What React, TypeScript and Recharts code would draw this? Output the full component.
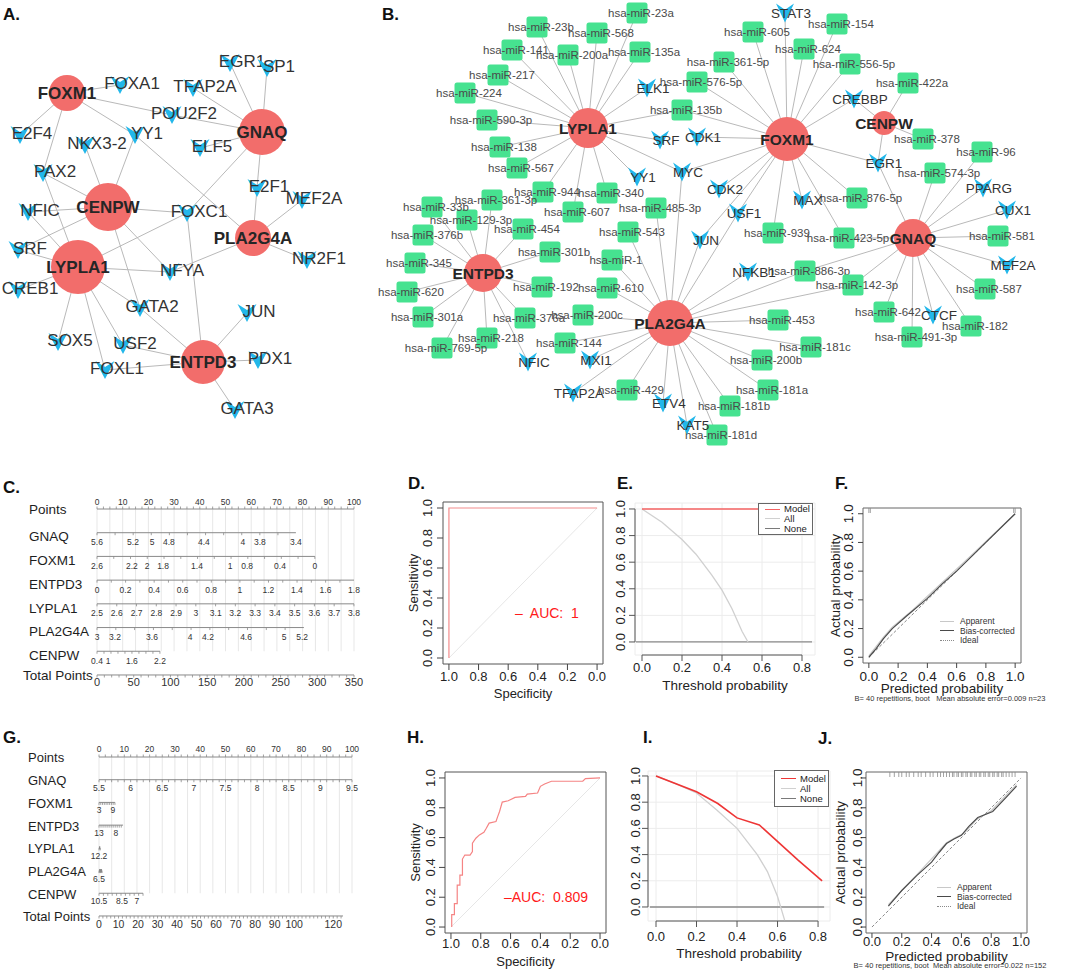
import React from 'react';
import {
  ComposedChart, Line, Scatter, XAxis, YAxis, ReferenceLine, ReferenceArea, CartesianGrid,
} from 'recharts';

const FONT = '"Liberation Sans", Arial, Helvetica, sans-serif';
const RED = '#F26D6B';
const BLUE = '#22B7EA';
const GREEN = '#46E290';
const EDGE = '#b9b9b9';

// ---------- A. gene / TF network (layout coordinates) ----------
const netAGenes = [
  { id: 'FOXM1', x: 67, y: 93 },
  { id: 'GNAQ', x: 262, y: 132 },
  { id: 'CENPW', x: 108, y: 207 },
  { id: 'LYPLA1', x: 78, y: 267 },
  { id: 'PLA2G4A', x: 253, y: 238 },
  { id: 'ENTPD3', x: 203, y: 362 },
];
const netATfs = [
  { id: 'EGR1', x: 230, y: 63 }, { id: 'SP1', x: 267, y: 68 }, { id: 'TFAP2A', x: 193, y: 88 },
  { id: 'FOXA1', x: 120, y: 85 }, { id: 'POU2F2', x: 172, y: 115 }, { id: 'E2F4', x: 20, y: 135 },
  { id: 'NKX3-2', x: 85, y: 145 }, { id: 'YY1', x: 135, y: 135 }, { id: 'ELF5', x: 200, y: 148 },
  { id: 'PAX2', x: 43, y: 173 }, { id: 'E2F1', x: 257, y: 188 }, { id: 'MEF2A', x: 302, y: 200 },
  { id: 'NFIC', x: 28, y: 212 }, { id: 'FOXC1', x: 187, y: 213 }, { id: 'SRF', x: 18, y: 250 },
  { id: 'NR2F1', x: 307, y: 260 }, { id: 'NFYA', x: 170, y: 272 }, { id: 'CREB1', x: 18, y: 290 },
  { id: 'GATA2', x: 140, y: 308 }, { id: 'JUN', x: 247, y: 313 }, { id: 'SOX5', x: 58, y: 342 },
  { id: 'USF2', x: 123, y: 345 }, { id: 'PDX1', x: 258, y: 360 }, { id: 'FOXL1', x: 105, y: 370 },
  { id: 'GATA3', x: 235, y: 410 },
];
const netAFoxm1 = ['FOXA1', 'POU2F2', 'E2F4', 'PAX2', 'YY1'];
const netAGnaq = ['TFAP2A', 'EGR1', 'SP1', 'POU2F2', 'ELF5', 'FOXC1', 'E2F1'];
const netACenpw = ['NKX3-2', 'YY1', 'PAX2', 'NFIC', 'SRF', 'FOXC1', 'NFYA', 'GATA2'];
const netALypla1 = ['PAX2', 'NFIC', 'SRF', 'CREB1', 'FOXC1', 'NFYA', 'GATA2', 'SOX5', 'USF2', 'FOXL1'];
const netAPla2g4a = ['YY1', 'E2F1', 'MEF2A', 'NR2F1', 'NFYA'];
const netAEntpd3 = ['FOXC1', 'GATA2', 'USF2', 'FOXL1', 'JUN', 'PDX1', 'GATA3'];

// ---------- B. gene / TF / miRNA network ----------
const netBGenes = [
  { id: 'LYPLA1', x: 588, y: 128 },
  { id: 'ENTPD3', x: 483, y: 273 },
  { id: 'PLA2G4A', x: 670, y: 323 },
  { id: 'FOXM1', x: 787, y: 139 },
  { id: 'CENPW', x: 884, y: 123 },
  { id: 'GNAQ', x: 913, y: 238 },
];
const netBTfs = [
  { id: 'ELK1', x: 647, y: 88 }, { id: 'SRF', x: 660, y: 140 }, { id: 'CDK1', x: 697, y: 137 },
  { id: 'YY1', x: 637, y: 177 }, { id: 'MYC', x: 682, y: 172 }, { id: 'CDK2', x: 719, y: 189 },
  { id: 'JUN', x: 700, y: 240 }, { id: 'USF1', x: 738, y: 213 }, { id: 'MAX', x: 802, y: 200 },
  { id: 'NFKB1', x: 748, y: 272 }, { id: 'NFIC', x: 528, y: 362 }, { id: 'MXI1', x: 590, y: 360 },
  { id: 'TFAP2A', x: 573, y: 393 }, { id: 'ETV4', x: 663, y: 403 }, { id: 'KAT5', x: 687, y: 425 },
  { id: 'STAT3', x: 785, y: 13 }, { id: 'CREBBP', x: 854, y: 99 }, { id: 'EGR1', x: 878, y: 163 },
  { id: 'PPARG', x: 983, y: 188 }, { id: 'CUX1', x: 1007, y: 210 }, { id: 'MEF2A', x: 1007, y: 265 },
  { id: 'CTCF', x: 933, y: 315 },
];
const netBMirs = [
  { id: 'hsa-miR-23b', x: 537, y: 27 }, { id: 'hsa-miR-568', x: 597, y: 33 }, { id: 'hsa-miR-23a', x: 637, y: 13 },
  { id: 'hsa-miR-141', x: 512, y: 50 }, { id: 'hsa-miR-200a', x: 568, y: 55 }, { id: 'hsa-miR-135a', x: 640, y: 52 },
  { id: 'hsa-miR-217', x: 498, y: 75 }, { id: 'hsa-miR-224', x: 465, y: 93 }, { id: 'hsa-miR-590-3p', x: 487, y: 120 },
  { id: 'hsa-miR-138', x: 500, y: 147 }, { id: 'hsa-miR-567', x: 517, y: 168 }, { id: 'hsa-miR-944', x: 543, y: 192 },
  { id: 'hsa-miR-340', x: 607, y: 193 }, { id: 'hsa-miR-607', x: 573, y: 212 }, { id: 'hsa-miR-576-5p', x: 697, y: 82 },
  { id: 'hsa-miR-135b', x: 682, y: 110 }, { id: 'hsa-miR-361-5p', x: 724, y: 62 }, { id: 'hsa-miR-605', x: 753, y: 32 },
  { id: 'hsa-miR-624', x: 804, y: 49 }, { id: 'hsa-miR-154', x: 837, y: 24 }, { id: 'hsa-miR-556-5p', x: 850, y: 64 },
  { id: 'hsa-miR-422a', x: 908, y: 83 }, { id: 'hsa-miR-378', x: 923, y: 139 }, { id: 'hsa-miR-96', x: 982, y: 152 },
  { id: 'hsa-miR-574-3p', x: 935, y: 173 }, { id: 'hsa-miR-876-5p', x: 857, y: 198 }, { id: 'hsa-miR-939', x: 773, y: 233 },
  { id: 'hsa-miR-423-5p', x: 844, y: 238 }, { id: 'hsa-miR-581', x: 998, y: 236 }, { id: 'hsa-miR-886-3p', x: 805, y: 271 },
  { id: 'hsa-miR-142-3p', x: 853, y: 285 }, { id: 'hsa-miR-587', x: 985, y: 289 }, { id: 'hsa-miR-642', x: 884, y: 312 },
  { id: 'hsa-miR-491-3p', x: 912, y: 337 }, { id: 'hsa-miR-182', x: 971, y: 326 }, { id: 'hsa-miR-453', x: 778, y: 320 },
  { id: 'hsa-miR-181c', x: 811, y: 347 }, { id: 'hsa-miR-200b', x: 762, y: 360 }, { id: 'hsa-miR-181a', x: 768, y: 390 },
  { id: 'hsa-miR-181b', x: 730, y: 406 }, { id: 'hsa-miR-181d', x: 717, y: 435 }, { id: 'hsa-miR-429', x: 627, y: 390 },
  { id: 'hsa-miR-144', x: 565, y: 343 }, { id: 'hsa-miR-200c', x: 583, y: 315 }, { id: 'hsa-miR-610', x: 607, y: 288 },
  { id: 'hsa-miR-1', x: 612, y: 260 }, { id: 'hsa-miR-543', x: 628, y: 232 }, { id: 'hsa-miR-485-3p', x: 656, y: 208 },
  { id: 'hsa-miR-301b', x: 550, y: 252 }, { id: 'hsa-miR-454', x: 523, y: 229 }, { id: 'hsa-miR-361-3p', x: 492, y: 200 },
  { id: 'hsa-miR-129-3p', x: 467, y: 220 }, { id: 'hsa-miR-33b', x: 432, y: 207 }, { id: 'hsa-miR-376b', x: 423, y: 235 },
  { id: 'hsa-miR-345', x: 415, y: 263 }, { id: 'hsa-miR-620', x: 407, y: 292 }, { id: 'hsa-miR-301a', x: 423, y: 317 },
  { id: 'hsa-miR-218', x: 487, y: 338 }, { id: 'hsa-miR-376a', x: 525, y: 318 }, { id: 'hsa-miR-769-5p', x: 442, y: 348 },
  { id: 'hsa-miR-192', x: 542, y: 287 },
];
const netBLypla1 = ['hsa-miR-23b', 'hsa-miR-568', 'hsa-miR-23a', 'hsa-miR-141', 'hsa-miR-200a', 'hsa-miR-135a', 'hsa-miR-217',
  'hsa-miR-224', 'hsa-miR-590-3p', 'hsa-miR-138', 'hsa-miR-567', 'hsa-miR-944', 'hsa-miR-340', 'hsa-miR-607', 'hsa-miR-135b',
  'ELK1', 'SRF', 'YY1', 'MYC'];
const netBFoxm1 = ['STAT3', 'hsa-miR-605', 'hsa-miR-624', 'hsa-miR-154', 'hsa-miR-556-5p', 'hsa-miR-361-5p', 'hsa-miR-576-5p',
  'hsa-miR-135b', 'CDK1', 'MYC', 'CDK2', 'USF1', 'hsa-miR-939', 'MAX', 'hsa-miR-423-5p', 'hsa-miR-876-5p', 'EGR1', 'CREBBP', 'JUN'];
const netBCenpw = ['hsa-miR-422a', 'hsa-miR-378', 'EGR1', 'CREBBP'];
const netBGnaq = ['EGR1', 'hsa-miR-574-3p', 'hsa-miR-96', 'PPARG', 'CUX1', 'hsa-miR-581', 'MEF2A', 'hsa-miR-587', 'hsa-miR-182',
  'CTCF', 'hsa-miR-491-3p', 'hsa-miR-642', 'hsa-miR-142-3p', 'hsa-miR-886-3p', 'hsa-miR-423-5p'];
const netBPla2g4a = ['hsa-miR-453', 'hsa-miR-181c', 'hsa-miR-200b', 'hsa-miR-181a', 'hsa-miR-181b', 'hsa-miR-181d', 'KAT5', 'ETV4',
  'hsa-miR-429', 'TFAP2A', 'MXI1', 'hsa-miR-144', 'hsa-miR-200c', 'hsa-miR-610', 'hsa-miR-1', 'hsa-miR-543', 'hsa-miR-485-3p',
  'MYC', 'USF1', 'NFKB1', 'hsa-miR-142-3p', 'hsa-miR-886-3p', 'JUN'];
const netBEntpd3 = ['hsa-miR-33b', 'hsa-miR-376b', 'hsa-miR-345', 'hsa-miR-620', 'hsa-miR-301a', 'hsa-miR-769-5p', 'hsa-miR-218',
  'hsa-miR-376a', 'NFIC', 'hsa-miR-192', 'hsa-miR-301b', 'hsa-miR-454', 'hsa-miR-361-3p', 'hsa-miR-129-3p'];

// ---------- C / G. nomograms ----------
const nomoNames = ['GNAQ', 'FOXM1', 'ENTPD3', 'LYPLA1', 'PLA2G4A', 'CENPW'];
const pointsLabels = ['0', '10', '20', '30', '40', '50', '60', '70', '80', '90', '100'];
const pointsAt = [0, 10, 20, 30, 40, 50, 60, 70, 80, 90, 100];

const nomoCLabels = [
  ['5.6', '5.2', '5', '4.8', '4.4', '4', '3.8', '3.4'],
  ['2.6', '2.2', '2', '1.8', '1.4', '1', '0.8', '0.4', '0'],
  ['0', '0.2', '0.4', '0.6', '0.8', '1', '1.2', '1.4', '1.6', '1.8'],
  ['2.5', '2.6', '2.7', '2.8', '2.9', '3', '3.1', '3.2', '3.3', '3.4', '3.5', '3.6', '3.7', '3.8'],
  ['3', '3.2', '3.6', '4', '4.2', '4.6', '5', '5.2'],
  ['0.4', '1', '1.6', '2.2'],
];
const nomoCAt = [
  [0, 14, 21.4, 28, 41.6, 56.8, 63.4, 77.4],
  [0, 13.6, 19.5, 25.7, 38.9, 51.8, 58.4, 71.2, 84.8],
  [0, 11.1, 22.2, 33.3, 44.4, 55.6, 66.7, 77.8, 88.9, 100],
  [0, 7.7, 15.4, 23.1, 30.8, 38.5, 46.2, 53.8, 61.5, 69.2, 76.9, 84.6, 92.3, 100],
  [0, 7, 21.4, 36.2, 43.2, 58, 72.8, 79.8],
  [0, 4.3, 13.6, 24.5],
];
const nomoCEnd = [77.4, 84.8, 100, 100, 80.5, 24.5];
const nomoCTotalLabels = ['0', '50', '100', '150', '200', '250', '300', '350'];
const nomoCTotalAt = [0, 50, 100, 150, 200, 250, 300, 350];

const nomoGLabels = [
  ['5.5', '6', '6.5', '7', '7.5', '8', '8.5', '9', '9.5'],
  ['3', '9'],
  ['13', '8'],
  ['12.2'],
  ['6.5'],
  ['10.5', '8.5', '7'],
];
const nomoGAt = [[0, 12.5, 25, 37.5, 50, 62.5, 75, 87.5, 100], [0, 5.5], [0, 6.7], [0], [0], [0, 9.1, 15]];
const nomoGEnd = [100, 6.3, 9.5, 0.5, 1.2, 17.4];
const nomoGTotalLabels = ['0', '10', '20', '30', '40', '50', '60', '70', '80', '90', '100', '120'];
const nomoGTotalAt = [0, 10, 20, 30, 40, 50, 60, 70, 80, 90, 100, 120];

// ---------- D / H. ROC ----------
const rocDSpec = [1, 1, 0];
const rocDSens = [0, 1, 1];
const rocHSpec = [0.995, 0.995, 0.977, 0.977, 0.958, 0.958, 0.94, 0.94, 0.923, 0.923, 0.907, 0.872, 0.856, 0.856, 0.833,
  0.809, 0.779, 0.763, 0.744, 0.698, 0.686, 0.674, 0.656, 0.616, 0.57, 0.5, 0.488, 0.419, 0.4, 0.372, 0.326, 0.116, 0.098, 0];
const rocHSens = [0, 0.083, 0.083, 0.157, 0.157, 0.281, 0.281, 0.348, 0.348, 0.456, 0.483, 0.483, 0.506, 0.562, 0.596,
  0.618, 0.636, 0.663, 0.697, 0.708, 0.742, 0.775, 0.838, 0.847, 0.87, 0.876, 0.892, 0.899, 0.944, 0.96, 0.978, 0.978, 0.996, 1];
const chanceSpec = [1, 0];
const chanceSens = [0, 1];

// ---------- E / I. decision curves ----------
const dcaEModelX = [0, 0.82];
const dcaEModelY = [1, 1];
const dcaEAllX = [0, 0.1, 0.2, 0.27, 0.35, 0.4, 0.45, 0.5, 0.53];
const dcaEAllY = [1, 0.9, 0.77, 0.66, 0.5, 0.39, 0.25, 0.08, 0];
const dcaENoneX = [-0.03, 0.85];
const dcaENoneY = [0, 0];
const dcaIModelX = [0, 0.2, 0.305, 0.4, 0.51, 0.7, 0.82];
const dcaIModelY = [1, 0.88, 0.79, 0.68, 0.626, 0.36, 0.2];
const dcaIAllX = [0, 0.1, 0.2, 0.3, 0.4, 0.5, 0.55, 0.6, 0.635];
const dcaIAllY = [1, 0.94, 0.87, 0.74, 0.6, 0.4, 0.27, 0.08, -0.1];
const dcaINoneX = [-0.03, 0.83];
const dcaINoneY = [0, 0];

// ---------- F / J. calibration ----------
const idealX = [0, 1];
const idealY = [0, 1];
const calFBiasX = [0, 0.05, 0.1, 0.16, 0.25, 0.4, 0.5, 0.6, 0.8, 1];
const calFBiasY = [0, 0.06, 0.13, 0.2, 0.28, 0.41, 0.51, 0.6, 0.8, 1];
const calFAppX = [0, 0.1, 0.16, 0.3, 0.5, 0.7, 1];
const calFAppY = [0.01, 0.14, 0.21, 0.33, 0.52, 0.71, 1];
const calFRug = [0, 0.01, 0.99, 1];
const calJBiasX = [0.11, 0.2, 0.3, 0.4, 0.45, 0.5, 0.55, 0.6, 0.65, 0.71, 0.81, 0.9, 0.97];
const calJBiasY = [0.14, 0.245, 0.345, 0.435, 0.5, 0.56, 0.59, 0.615, 0.675, 0.735, 0.775, 0.87, 0.945];
const calJAppX = [0.11, 0.3, 0.5, 0.56, 0.62, 0.7, 0.8, 0.97];
const calJAppY = [0.15, 0.35, 0.565, 0.6, 0.63, 0.72, 0.78, 0.955];
const calJRug = [0.12, 0.15, 0.18, 0.2, 0.23, 0.25, 0.28, 0.31, 0.33, 0.36, 0.39, 0.41, 0.44, 0.46, 0.48, 0.5, 0.52, 0.54,
  0.55, 0.57, 0.58, 0.6, 0.61, 0.63, 0.64, 0.66, 0.67, 0.69, 0.7, 0.72, 0.73, 0.75, 0.76, 0.78, 0.79, 0.81, 0.82, 0.84,
  0.85, 0.87, 0.88, 0.9, 0.92, 0.94, 0.96];

const xy = (xs: number[], ys: number[]) => xs.map((x, i) => ({ x, y: ys[i] }));
const f1 = (v: number) => Number(v).toFixed(1);
const range = (a: number, b: number, s: number) => {
  const out: number[] = [];
  for (let v = a; v <= b + 1e-6; v += s) out.push(+v.toFixed(3));
  return out;
};

// ---------------- helpers ----------------
function RotTick(props: any) {
  const { x, y, payload, shift = 0, fs = 13 } = props;
  return (
    <text x={x} y={y} dy={shift} transform={`rotate(-90 ${x} ${y})`} textAnchor="middle" fontSize={fs} fill="#222">
      {f1(payload.value)}
    </text>
  );
}

function Txt({ x, y, size = 13, bold = false, color = '#111', anchor = 'start', children }: any) {
  const tx = anchor === 'middle' ? '-50%' : anchor === 'end' ? '-100%' : '0';
  return (
    <div style={{
      position: 'absolute', left: x, top: y, transform: `translate(${tx}, -50%)`, fontSize: size,
      fontWeight: bold ? 'bold' : 'normal', color, whiteSpace: 'pre', lineHeight: 1,
    }}>{children}</div>
  );
}

// ---------------- network ----------------
function Network(props: any) {
  const { x0, y0, width, height, genes, tfs, mirs = [], hubs, radius, geneFs, tfFs, tfW, tfH, tfDx, tfDy, mirFs } = props;
  const pos = new Map<string, any>();
  [...genes, ...tfs, ...mirs].forEach((n: any) => pos.set(n.id, n));
  const edgeData: any[] = [];
  hubs.forEach(([g, targets]: [string, string[]]) => {
    const a = pos.get(g);
    targets.forEach((t) => {
      const b = pos.get(t);
      if (!a || !b) return;
      edgeData.push({ x: a.x, y: a.y }, { x: b.x, y: b.y }, { x: null, y: null });
    });
  });
  const geneShape = (p: any) => (
    <g>
      <circle cx={p.cx} cy={p.cy} r={radius[p.payload.id]} fill={RED} />
      <text x={p.cx} y={p.cy} dy="0.36em" textAnchor="middle" fontSize={geneFs} fontWeight="bold" fill="#262626">
        {p.payload.id}
      </text>
    </g>
  );
  const tfShape = (p: any) => {
    const { cx, cy } = p;
    const w = tfW / 2;
    const h = tfH / 2;
    return (
      <g>
        <polygon points={`${cx - w},${cy - h} ${cx},${cy - h + tfH / 3} ${cx + w},${cy - h} ${cx},${cy + h}`} fill={BLUE} />
        <text x={cx + tfDx} y={cy + tfDy} dy="0.36em" textAnchor="middle" fontSize={tfFs} fill="#333">{p.payload.id}</text>
      </g>
    );
  };
  const mirShape = (p: any) => (
    <g>
      <rect x={p.cx - 10.5} y={p.cy - 10.5} width={21} height={21} rx={2.5} fill={GREEN} />
      <text x={p.cx + 4} y={p.cy} dy="0.36em" textAnchor="middle" fontSize={mirFs} fill="#4a4a4a">{p.payload.id}</text>
    </g>
  );
  return (
    <div style={{ position: 'absolute', left: x0, top: y0 }}>
      <ComposedChart width={width} height={height} margin={{ top: 0, right: 0, bottom: 0, left: 0 }}>
        <XAxis type="number" dataKey="x" domain={[x0, x0 + width]} hide />
        <YAxis type="number" dataKey="y" domain={[y0, y0 + height]} reversed hide />
        <Line data={edgeData} dataKey="y" stroke={EDGE} strokeWidth={1} dot={false} activeDot={false}
          connectNulls={false} isAnimationActive={false} />
        {mirs.length > 0 && <Scatter data={mirs} shape={mirShape} isAnimationActive={false} />}
        <Scatter data={tfs} shape={tfShape} isAnimationActive={false} />
        <Scatter data={genes} shape={geneShape} isAnimationActive={false} />
      </ComposedChart>
    </div>
  );
}

// ---------------- nomogram ----------------
function Nomogram(props: any) {
  const {
    left, top, width, height, plotLeft, plotRight, row0, rowStep, labels, at, ends, steps,
    totalLabels, totalAt, totalMax, totalEnd, totalStep, nameX, totalNameX, nameFs, nameOff,
    tickFs, totalFs, ptsOff, varOff, totOff,
  } = props;
  const names = ['Points', ...nomoNames, 'Total Points'];
  const margin = {
    top: row0 - rowStep - top,
    bottom: top + height - (row0 + 8 * rowStep),
    left: 0,
    right: left + width - plotRight,
  };
  const ptsLabelData = pointsLabels.map((l, j) => ({ pts: pointsAt[j], row: 0, label: l }));
  const varLabelData = labels.flatMap((ls: string[], i: number) => ls.map((l, j) => ({ pts: at[i][j], row: i + 1, label: l })));
  const totLabelData = totalLabels.map((l: string, j: number) => ({ total: totalAt[j], row: 7, label: l }));
  const ptsTicks = range(0, 100, 2.5).map((v) => ({ pts: v, row: 0 }));
  const varTicks = ends.flatMap((e: number, i: number) => range(0, e, steps[i]).map((v) => ({ pts: v, row: i + 1 })));
  const totTicks = range(0, totalEnd, totalStep).map((v) => ({ total: v, row: 7 }));
  const grid = range(0, 100, 5);

  const tickUp = (p: any) => <line x1={p.cx} y1={p.cy} x2={p.cx} y2={p.cy - 2.5} stroke="#8a8a8a" strokeWidth={0.8} />;
  const tickDown = (p: any) => <line x1={p.cx} y1={p.cy} x2={p.cx} y2={p.cy + 2.5} stroke="#8a8a8a" strokeWidth={0.8} />;
  const textAt = (off: number, fs: number) => (p: any) => (
    <text x={p.cx} y={p.cy + off} dy="0.35em" textAnchor="middle" fontSize={fs} fill="#333">{p.payload.label}</text>
  );
  const nameTick = (p: any) => {
    const i = p.payload.value;
    const edge = i === 0 || i === 7;
    return (
      <text x={i === 7 ? totalNameX : nameX} y={p.y + (edge ? 0 : nameOff)} dy="0.35em" fontSize={nameFs} fill="#1e1e1e"
        textAnchor="start">{names[i]}</text>
    );
  };
  return (
    <div style={{ position: 'absolute', left, top }}>
      <ComposedChart width={width} height={height} margin={margin}>
        <XAxis xAxisId="pts" type="number" dataKey="pts" domain={[0, 100]} hide />
        <XAxis xAxisId="total" type="number" dataKey="total" domain={[0, totalMax]} hide />
        <YAxis type="number" dataKey="row" domain={[-1, 8]} reversed width={plotLeft - left}
          ticks={[0, 1, 2, 3, 4, 5, 6, 7]} interval={0} axisLine={false} tickLine={false} tick={nameTick} />
        {grid.map((g) => (
          <ReferenceLine key={'g' + g} xAxisId="pts" segment={[{ x: g, y: 0 }, { x: g, y: 6 }]} stroke="#e4e4e4"
            strokeWidth={0.9} ifOverflow="visible" />
        ))}
        <ReferenceLine xAxisId="pts" segment={[{ x: 0, y: 0 }, { x: 100, y: 0 }]} stroke="#8a8a8a" ifOverflow="visible" />
        {ends.map((e: number, i: number) => (
          <ReferenceLine key={'r' + i} xAxisId="pts" segment={[{ x: 0, y: i + 1 }, { x: e, y: i + 1 }]} stroke="#8a8a8a"
            strokeWidth={e < 2 ? 3 : 1} ifOverflow="visible" />
        ))}
        <ReferenceLine xAxisId="total" segment={[{ x: 0, y: 7 }, { x: totalEnd, y: 7 }]} stroke="#8a8a8a" ifOverflow="visible" />
        <Scatter xAxisId="pts" data={ptsTicks} shape={tickUp} isAnimationActive={false} />
        <Scatter xAxisId="pts" data={varTicks} shape={tickDown} isAnimationActive={false} />
        <Scatter xAxisId="total" data={totTicks} shape={tickDown} isAnimationActive={false} />
        <Scatter xAxisId="pts" data={ptsLabelData} shape={textAt(ptsOff, tickFs)} isAnimationActive={false} />
        <Scatter xAxisId="pts" data={varLabelData} shape={textAt(varOff, tickFs)} isAnimationActive={false} />
        <Scatter xAxisId="total" data={totLabelData} shape={textAt(totOff, totalFs)} isAnimationActive={false} />
      </ComposedChart>
    </div>
  );
}

// ---------------- ROC ----------------
function RocPanel(props: any) {
  const { left, top, width, height, box, xAxisH, tickMargin, yShift, xLabelOff, yLabelOff, data, color } = props;
  const margin = { left: box[0] - left - 35, top: box[1] - top, right: left + width - box[2], bottom: top + height - box[3] - xAxisH };
  return (
    <div style={{ position: 'absolute', left, top }}>
      <ComposedChart width={width} height={height} margin={margin}>
        <XAxis type="number" dataKey="x" domain={[-0.04, 1.04]} reversed allowDataOverflow ticks={[1, 0.8, 0.6, 0.4, 0.2, 0]}
          tickFormatter={f1} interval={0} axisLine={false} tickLine={{ stroke: '#444' }} tickSize={6} tickMargin={tickMargin}
          height={xAxisH} tick={{ fontSize: 13, fill: '#222' }}
          label={{ value: 'Specificity', position: 'insideBottom', offset: xLabelOff, fontSize: 13, fill: '#222' }} />
        <YAxis type="number" dataKey="y" domain={[-0.04, 1.04]} allowDataOverflow ticks={[0, 0.2, 0.4, 0.6, 0.8, 1]}
          interval={0} axisLine={false} tickLine={{ stroke: '#444' }} tickSize={6} width={35} tick={<RotTick shift={yShift} />}
          label={{ value: 'Sensitivity', angle: -90, position: 'insideLeft', offset: yLabelOff, fontSize: 13, fill: '#222',
            style: { textAnchor: 'middle' } }} />
        <ReferenceArea x1={-0.04} x2={1.04} y1={-0.04} y2={1.04} fill="none" fillOpacity={0} stroke="#555" strokeWidth={1} />
        <Line data={xy(chanceSpec, chanceSens)} dataKey="y" stroke="#e6e6e6" strokeWidth={1} dot={false} isAnimationActive={false} />
        <Line data={data} dataKey="y" stroke={color} strokeWidth={1.2} dot={false} isAnimationActive={false} />
      </ComposedChart>
    </div>
  );
}

// ---------------- decision curve ----------------
function DcaPanel(props: any) {
  const { left, top, width, height, box, xDom, yDom, tickMargin, yShift, xLabelOff, model, all, none, modelColor } = props;
  const margin = { left: box[0] - left - 25, top: box[1] - top, right: left + width - box[2], bottom: top + height - box[3] - 40 };
  return (
    <div style={{ position: 'absolute', left, top }}>
      <ComposedChart width={width} height={height} margin={margin}>
        <CartesianGrid stroke="#ececec" />
        <XAxis type="number" dataKey="x" domain={xDom} allowDataOverflow ticks={[0, 0.2, 0.4, 0.6, 0.8]} tickFormatter={f1}
          interval={0} axisLine={false} tickLine={{ stroke: '#555' }} tickSize={6} tickMargin={tickMargin} height={40}
          tick={{ fontSize: 13, fill: '#222' }}
          label={{ value: 'Threshold probability', position: 'insideBottom', offset: xLabelOff, fontSize: 13.5, fill: '#222' }} />
        <YAxis type="number" dataKey="y" domain={yDom} allowDataOverflow ticks={[0, 0.2, 0.4, 0.6, 0.8, 1]} interval={0}
          axisLine={false} tickLine={{ stroke: '#555' }} tickSize={6} width={25} tick={<RotTick shift={yShift} />} />
        <ReferenceLine segment={[{ x: xDom[0], y: 0 }, { x: xDom[0], y: 1 }]} stroke="#555" ifOverflow="visible" />
        <ReferenceLine segment={[{ x: 0, y: yDom[0] }, { x: 0.8, y: yDom[0] }]} stroke="#555" ifOverflow="visible" />
        <Line data={none} dataKey="y" stroke="#8a8a8a" strokeWidth={1.3} dot={false} isAnimationActive={false} />
        <Line data={all} dataKey="y" stroke="#d0d0d0" strokeWidth={1.3} dot={false} isAnimationActive={false} />
        <Line data={model} dataKey="y" stroke={modelColor} strokeWidth={1.6} dot={false} isAnimationActive={false} />
      </ComposedChart>
    </div>
  );
}

function DcaLegend({ left, top, height, color }: any) {
  const items: [string, string, number][] = [['Model', color, 1.6], ['All', '#d0d0d0', 1.2], ['None', '#7a7a7a', 1.2]];
  return (
    <div style={{
      position: 'absolute', left, top, width: 55, height, border: '1px solid #666', background: '#fff',
      boxSizing: 'border-box', paddingLeft: 6, display: 'flex', flexDirection: 'column', justifyContent: 'center',
    }}>
      {items.map(([n, c, w]) => (
        <div key={n} style={{ display: 'flex', alignItems: 'center', height: 9.8, fontSize: 9.5, lineHeight: 1, color: '#222' }}>
          <span style={{ display: 'inline-block', width: 15, height: 0, borderTop: `${w}px solid ${c}`, marginRight: 4 }} />
          {n}
        </div>
      ))}
    </div>
  );
}

// ---------------- calibration ----------------
function CalPanel(props: any) {
  const { left, top, width, height, box, tickMargin, tickFs = 13.5, yShift, xLabelOff, yLabelOff, apparent, bias, rug } = props;
  const margin = { left: box[0] - left - 35, top: box[1] - top, right: left + width - box[2], bottom: top + height - box[3] - 32 };
  const rugShape = (p: any) => <line x1={p.cx} y1={p.cy} x2={p.cx} y2={p.cy + 5} stroke="#8a8a8a" strokeWidth={0.8} />;
  return (
    <div style={{ position: 'absolute', left, top }}>
      <ComposedChart width={width} height={height} margin={margin}>
        <XAxis type="number" dataKey="x" domain={[-0.04, 1.04]} allowDataOverflow ticks={[0, 0.2, 0.4, 0.6, 0.8, 1]}
          tickFormatter={f1} interval={0} axisLine={false} tickLine={{ stroke: '#444' }} tickSize={5} tickMargin={tickMargin}
          height={32} tick={{ fontSize: tickFs, fill: '#222' }}
          label={{ value: 'Predicted probability', position: 'insideBottom', offset: xLabelOff, fontSize: 13.5, fill: '#222' }} />
        <YAxis type="number" dataKey="y" domain={[-0.04, 1.04]} allowDataOverflow ticks={[0, 0.2, 0.4, 0.6, 0.8, 1]}
          interval={0} axisLine={false} tickLine={{ stroke: '#444' }} tickSize={5} tickMargin={1} width={35}
          tick={<RotTick shift={yShift} fs={13.5} />}
          label={{ value: 'Actual probability', angle: -90, position: 'insideLeft', offset: yLabelOff, fontSize: 13.5,
            fill: '#222', style: { textAnchor: 'middle' } }} />
        <ReferenceArea x1={-0.04} x2={1.04} y1={-0.04} y2={1.04} fill="none" fillOpacity={0} stroke="#666" strokeWidth={1} />
        <Line data={xy(idealX, idealY)} dataKey="y" stroke="#8a8a8a" strokeDasharray="3 2" strokeWidth={1} dot={false}
          isAnimationActive={false} />
        <Line data={apparent} dataKey="y" stroke="#c8c8c8" strokeWidth={1.2} dot={false} isAnimationActive={false} />
        <Line data={bias} dataKey="y" stroke="#4a4a4a" strokeWidth={1.2} dot={false} isAnimationActive={false} />
        <Scatter data={rug.map((x: number) => ({ x, y: 1.04 }))} shape={rugShape} isAnimationActive={false} />
      </ComposedChart>
    </div>
  );
}

function CalLegend({ left, top }: any) {
  const items: [string, string, string][] = [['Apparent', '#c8c8c8', 'solid'], ['Bias-corrected', '#4a4a4a', 'solid'],
    ['Ideal', '#8a8a8a', 'dotted']];
  return (
    <div style={{ position: 'absolute', left, top }}>
      {items.map(([n, c, s]) => (
        <div key={n} style={{ display: 'flex', alignItems: 'center', height: 9.3, fontSize: 8.5, lineHeight: 1, color: '#333' }}>
          <span style={{ display: 'inline-block', width: 14, height: 0, borderTop: `1.2px ${s} ${c}`, marginRight: 6 }} />
          {n}
        </div>
      ))}
    </div>
  );
}

const radiusA: Record<string, number> = { FOXM1: 18, GNAQ: 23, CENPW: 24, LYPLA1: 27, PLA2G4A: 18, ENTPD3: 22 };
const radiusB: Record<string, number> = { LYPLA1: 20, ENTPD3: 19, PLA2G4A: 23, FOXM1: 22, CENPW: 12, GNAQ: 19 };

export default function App() {
  return (
    <div style={{
      position: 'absolute', left: 0, top: 0, width: 1065, height: 972, background: '#fff', fontFamily: FONT, overflow: 'hidden',
    }}>
      <Network x0={0} y0={0} width={390} height={440} genes={netAGenes} tfs={netATfs} radius={radiusA}
        hubs={[['FOXM1', netAFoxm1], ['GNAQ', netAGnaq], ['CENPW', netACenpw], ['LYPLA1', netALypla1],
          ['PLA2G4A', netAPla2g4a], ['ENTPD3', netAEntpd3]]}
        geneFs={17} tfFs={17} tfW={19} tfH={18} tfDx={12} tfDy={-2} />
      <Network x0={360} y0={0} width={705} height={450} genes={netBGenes} tfs={netBTfs} mirs={netBMirs} radius={radiusB}
        hubs={[['LYPLA1', netBLypla1], ['FOXM1', netBFoxm1], ['CENPW', netBCenpw], ['GNAQ', netBGnaq],
          ['PLA2G4A', netBPla2g4a], ['ENTPD3', netBEntpd3]]}
        geneFs={15.5} tfFs={13.5} tfW={18} tfH={19} tfDx={6} tfDy={0} mirFs={11.5} />

      <Nomogram left={0} top={480} width={385} height={225} plotLeft={97} plotRight={354} row0={509} rowStep={23.71}
        labels={nomoCLabels} at={nomoCAt} ends={nomoCEnd} steps={[7.04, 6.52, 5.56, 7.69, 7.32, 2.72]}
        totalLabels={nomoCTotalLabels} totalAt={nomoCTotalAt} totalMax={350} totalEnd={350} totalStep={10}
        nameX={29} totalNameX={23} nameFs={13.5} nameOff={4} tickFs={8.5} totalFs={11} ptsOff={-7} varOff={9.5} totOff={7} />
      <Nomogram left={0} top={728} width={385} height={230} plotLeft={99} plotRight={352} row0={757} rowStep={22.71}
        labels={nomoGLabels} at={nomoGAt} ends={nomoGEnd} steps={[2.5, 0.7, 0.8, 0.5, 0.3, 1.74]}
        totalLabels={nomoGTotalLabels} totalAt={nomoGTotalAt} totalMax={129.6} totalEnd={125} totalStep={2}
        nameX={28} totalNameX={23} nameFs={13} nameOff={1} tickFs={8.5} totalFs={10.5} ptsOff={-8} varOff={8} totOff={8} />

      <RocPanel left={395} top={495} width={230} height={215} box={[443, 502, 603, 664]} xAxisH={40} tickMargin={2}
        yShift={-3} xLabelOff={6} yLabelOff={5} data={xy(rocDSpec, rocDSens)} color="#F48C8C" />
      <RocPanel left={395} top={760} width={230} height={212} box={[445, 772, 606, 933]} xAxisH={34} tickMargin={0}
        yShift={-2.4} xLabelOff={1} yLabelOff={5} data={xy(rocHSpec, rocHSens)} color="#F58484" />

      <DcaPanel left={600} top={495} width={225} height={210} box={[635, 503, 815, 655]} xDom={[-0.035, 0.865]}
        yDom={[-0.098, 1.045]} tickMargin={2} yShift={-2.4} xLabelOff={5} modelColor="#F46262"
        model={xy(dcaEModelX, dcaEModelY)} all={xy(dcaEAllX, dcaEAllY)} none={xy(dcaENoneX, dcaENoneY)} />
      <DcaPanel left={615} top={760} width={225} height={212} box={[648, 771, 830, 921]} xDom={[-0.0395, 0.859]}
        yDom={[-0.107, 1.038]} tickMargin={5} yShift={-0.4} xLabelOff={3} modelColor="#EE3535"
        model={xy(dcaIModelX, dcaIModelY)} all={xy(dcaIAllX, dcaIAllY)} none={xy(dcaINoneX, dcaINoneY)} />
      <DcaLegend left={758} top={503} height={32} color="#F46262" />
      <DcaLegend left={774} top={770} height={37} color="#EE3535" />

      <CalPanel left={815} top={495} width={240} height={215} box={[863, 508, 1021, 663]} tickMargin={3} yShift={-4.4}
        xLabelOff={2} yLabelOff={7} apparent={xy(calFAppX, calFAppY)} bias={xy(calFBiasX, calFBiasY)} rug={calFRug} />
      <CalPanel left={815} top={760} width={240} height={212} box={[866, 772, 1027, 933]} tickMargin={-1.5} tickFs={13}
        yShift={1.6} xLabelOff={4} yLabelOff={9} apparent={xy(calJAppX, calJAppY)} bias={xy(calJBiasX, calJBiasY)} rug={calJRug} />
      <CalLegend left={940} top={617} />
      <CalLegend left={937} top={883} />

      <Txt x={515} y={613} size={14} color="#ff1a1a">{'–  AUC:  1'}</Txt>
      <Txt x={504} y={897} size={14} color="#ff1a1a">{'–AUC:  0.809'}</Txt>
      <Txt x={950} y={699} size={7.5} color="#333" anchor="middle">{'B= 40 repetitions, boot   Mean absolute error=0.009 n=23'}</Txt>
      <Txt x={950} y={966} size={7.5} color="#333" anchor="middle">{'B= 40 repetitions, boot  Mean absolute error=0.022 n=152'}</Txt>

      <Txt x={3} y={14} size={17} bold>A.</Txt>
      <Txt x={382} y={14} size={17} bold>B.</Txt>
      <Txt x={3} y={487} size={17} bold>C.</Txt>
      <Txt x={408} y={483} size={17} bold>D.</Txt>
      <Txt x={617} y={483} size={17} bold>E.</Txt>
      <Txt x={835} y={483} size={17} bold>F.</Txt>
      <Txt x={3} y={737} size={17} bold>G.</Txt>
      <Txt x={407} y={737} size={17} bold>H.</Txt>
      <Txt x={643} y={737} size={17} bold>I.</Txt>
      <Txt x={818} y={738} size={17} bold>J.</Txt>
    </div>
  );
}
